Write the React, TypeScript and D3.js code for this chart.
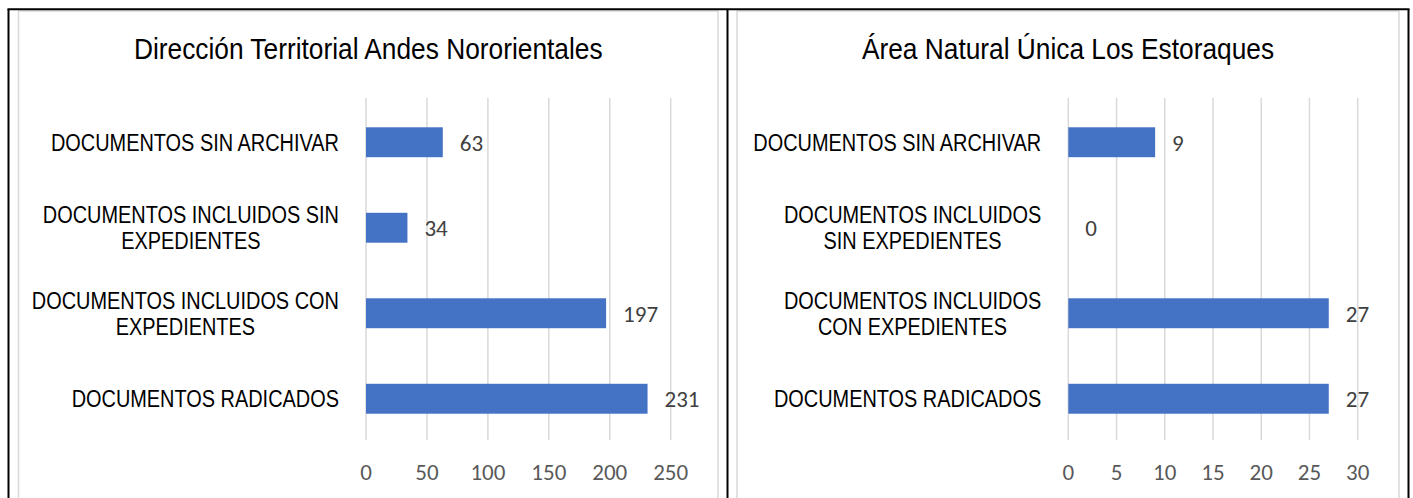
import React, { useEffect, useRef } from "react";
import * as d3 from "d3";

const categories = [
  "DOCUMENTOS SIN ARCHIVAR",
  "DOCUMENTOS INCLUIDOS SIN EXPEDIENTES",
  "DOCUMENTOS INCLUIDOS CON EXPEDIENTES",
  "DOCUMENTOS RADICADOS",
];
const leftLabelLines = [
  ["DOCUMENTOS SIN ARCHIVAR"],
  ["DOCUMENTOS INCLUIDOS SIN", "EXPEDIENTES"],
  ["DOCUMENTOS INCLUIDOS CON", "EXPEDIENTES"],
  ["DOCUMENTOS RADICADOS"],
];
const rightLabelLines = [
  ["DOCUMENTOS SIN ARCHIVAR"],
  ["DOCUMENTOS INCLUIDOS", "SIN EXPEDIENTES"],
  ["DOCUMENTOS INCLUIDOS", "CON EXPEDIENTES"],
  ["DOCUMENTOS RADICADOS"],
];
const leftValues = [63, 34, 197, 231];
const rightValues = [9, 0, 27, 27];
const leftTicks = [0, 50, 100, 150, 200, 250];
const rightTicks = [0, 5, 10, 15, 20, 25, 30];
const leftTitle = "Dirección Territorial Andes Nororientales";
const rightTitle = "Área Natural Única Los Estoraques";

const W = 1413;
const H = 498;
const NARROW = "'Liberation Sans Narrow', 'Arial Narrow', 'Liberation Sans', Arial, sans-serif";
const NUM = "Carlito, Calibri, Lato, 'Open Sans', sans-serif";
const SQUEEZE_LABEL = 0.866;
const SQUEEZE_TITLE = 0.907;

type Panel = {
  title: string;
  lines: string[][];
  values: number[];
  ticks: number[];
  x0: number;
  x1: number;
  boxL: number;
  boxR: number;
};

const panels: Panel[] = [
  { title: leftTitle, lines: leftLabelLines, values: leftValues, ticks: leftTicks, x0: 366, x1: 670.7, boxL: 18.5, boxR: 718 },
  { title: rightTitle, lines: rightLabelLines, values: rightValues, ticks: rightTicks, x0: 1068.3, x1: 1357.7, boxL: 737, boxR: 1399 },
];

export default function App() {
  const ref = useRef<SVGSVGElement | null>(null);

  useEffect(() => {
    const svg = d3.select(ref.current);
    svg.selectAll("*").remove();

    svg.append("rect").attr("width", W).attr("height", H).attr("fill", "#fff");

    panels.forEach((p) => {
      const g = svg.append("g");
      // panel grey border
      g.append("line").attr("x1", p.boxL).attr("x2", p.boxL).attr("y1", 10.5).attr("y2", H).attr("stroke", "#d9d9d9").attr("stroke-width", 1.5);
      g.append("line").attr("x1", p.boxR).attr("x2", p.boxR).attr("y1", 10.5).attr("y2", H).attr("stroke", "#d9d9d9").attr("stroke-width", 1.5);
      g.append("line").attr("x1", p.boxL).attr("x2", p.boxR).attr("y1", 11).attr("y2", 11).attr("stroke", "#d9d9d9").attr("stroke-width", 1.5);

      const maxT = p.ticks[p.ticks.length - 1];
      const x = d3.scaleLinear().domain([0, maxT]).range([p.x0, p.x1]);
      const y = d3.scaleBand<string>().domain(categories).range([99.5, 441.5]).paddingInner(0.65).paddingOuter(0.325);

      // gridlines
      g.selectAll(".grid").data(p.ticks).enter().append("line")
        .attr("x1", (d) => x(d)).attr("x2", (d) => x(d))
        .attr("y1", 98).attr("y2", 440)
        .attr("stroke", "#d9d9d9").attr("stroke-width", 1.5);

      // tick labels
      g.selectAll(".tick").data(p.ticks).enter().append("text")
        .attr("x", (d) => x(d)).attr("y", 480)
        .attr("text-anchor", "middle")
        .attr("font-family", NUM).attr("font-size", 23).attr("fill", "#595959")
        .text((d) => String(d));

      // bars
      g.selectAll(".bar").data(p.values).enter().append("rect")
        .attr("x", x(0))
        .attr("y", (_d, i) => y(categories[i]) as number)
        .attr("width", (d) => x(d) - x(0))
        .attr("height", y.bandwidth())
        .attr("fill", "#4472c4");

      // value labels
      g.selectAll(".val").data(p.values).enter().append("text")
        .attr("x", (d) => x(d) + 17)
        .attr("y", (_d, i) => (y(categories[i]) as number) + y.bandwidth() / 2 + 8.5)
        .attr("font-family", NUM).attr("font-size", 23).attr("fill", "#404040")
        .text((d) => String(d));

      // category labels
      const rightEdge = p.x0 - 27;
      p.lines.forEach((lines, i) => {
        const cy = (y(categories[i]) as number) + y.bandwidth() / 2;
        const n = lines.length;
        const lh = 26;
        const tg = g.append("g");
        const t = tg.append("text")
          .attr("font-family", NARROW).attr("font-size", 23).attr("fill", "#000")
          .attr("text-anchor", "middle");
        const spans = lines.map((ln, k) =>
          t.append("tspan").attr("x", 0).attr("y", (k - (n - 1) / 2) * lh + 8.3).text(ln)
        );
        const widths = spans.map((s) => (s.node() as SVGTSpanElement).getComputedTextLength());
        const maxW = Math.max(...widths) * SQUEEZE_LABEL;
        const cx = rightEdge - maxW / 2;
        tg.attr("transform", `translate(${cx},${cy}) scale(${SQUEEZE_LABEL},1)`);
      });

      // title
      g.append("text")
        .attr("transform", `translate(${(p.boxL + p.boxR) / 2},59) scale(${SQUEEZE_TITLE},1)`)
        .attr("text-anchor", "middle")
        .attr("font-family", NARROW).attr("font-size", 29).attr("fill", "#000")
        .text(p.title);
    });

    // black table borders
    const black = [
      [8.5, 9, 8.5, H],
      [727.5, 9, 727.5, H],
      [1408.5, 9, 1408.5, H],
      [7.5, 9.3, 1409.5, 9.3],
    ];
    black.forEach(([a, b, c, d]) => {
      svg.append("line").attr("x1", a).attr("y1", b).attr("x2", c).attr("y2", d).attr("stroke", "#000").attr("stroke-width", 2);
    });
  }, []);

  return (
    <svg
      ref={ref}
      width={W}
      height={H}
      style={{ position: "absolute", left: 0, top: 0, display: "block" }}
    />
  );
}
